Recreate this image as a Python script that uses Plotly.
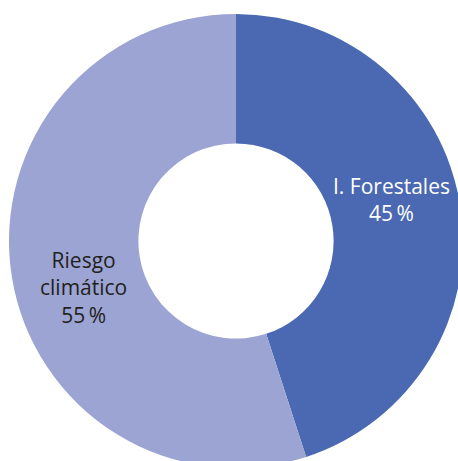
import plotly.graph_objects as go

labels = ["I. Forestales", "Riesgo<br>climático"]
values = [45, 55]
colors = ["#4A69B2", "#9BA4D2"]
text_colors = ["#FFFFFF", "#231F20"]

W, H = 472, 482
fig = go.Figure()
fig.add_trace(go.Pie(
    labels=labels,
    values=values,
    hole=0.43,
    sort=False,
    direction="clockwise",
    rotation=0,
    marker=dict(colors=colors, line=dict(width=0)),
    textinfo="none",
    hoverinfo="label+percent",
    showlegend=False,
    domain=dict(x=[9 / W, 463 / W], y=[14 / H, 468 / H]),
))

label_pos = [(391, 199), (83, 287)]
for lab, val, col, (px, py) in zip(labels, values, text_colors, label_pos):
    fig.add_annotation(
        x=px / W, y=1 - py / H, xref="paper", yref="paper",
        text=f"{lab}<br>{val}\u2009%", showarrow=False,
        font=dict(family="Open Sans", size=21, color=col),
        align="center", xanchor="center", yanchor="middle",
    )

fig.update_layout(
    width=W, height=H, autosize=False,
    margin=dict(l=0, r=0, t=0, b=0),
    paper_bgcolor="white", plot_bgcolor="white",
)
fig.write_html(
    "out.html",
    config={"displayModeBar": False},
    post_script=(
        "document.body.style.margin='0';"
        "document.body.style.overflow='hidden';"
        "document.documentElement.style.overflow='hidden';"
    ),
)
